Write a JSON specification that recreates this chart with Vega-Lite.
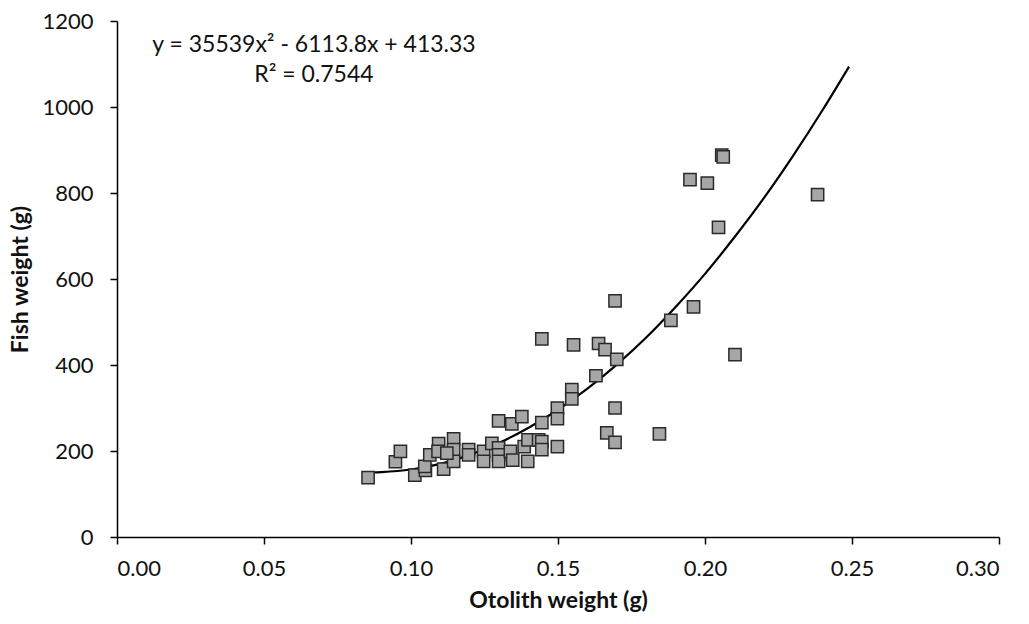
{
  "$schema": "https://vega.github.io/schema/vega-lite/v6.json",
  "width": 882,
  "height": 516,
  "autosize": {"type": "none"},
  "padding": {"left": 117, "top": 21, "right": 30, "bottom": 87},
  "background": "white",
  "config": {
    "view": {"stroke": null},
    "font": "Lato",
    "axis": {
      "grid": false,
      "domainColor": "#000",
      "domainWidth": 1.5,
      "tickColor": "#000",
      "tickWidth": 1.5,
      "tickSize": 7,
      "labelFont": "Lato",
      "labelFontSize": 22,
      "labelColor": "#111",
      "titleFont": "Lato",
      "titleFontSize": 23,
      "titleFontWeight": "bold",
      "titleColor": "#111"
    }
  },
  "datasets": {
    "pts": [
      {"x": 0.0854, "y": 138}, {"x": 0.0947, "y": 175}, {"x": 0.0964, "y": 199},
      {"x": 0.1013, "y": 144}, {"x": 0.1049, "y": 155}, {"x": 0.1047, "y": 164},
      {"x": 0.1064, "y": 191}, {"x": 0.1094, "y": 217}, {"x": 0.1092, "y": 199},
      {"x": 0.1111, "y": 158}, {"x": 0.1145, "y": 228}, {"x": 0.1145, "y": 203},
      {"x": 0.1145, "y": 176}, {"x": 0.1122, "y": 195}, {"x": 0.1196, "y": 203},
      {"x": 0.1196, "y": 191}, {"x": 0.1247, "y": 199}, {"x": 0.1247, "y": 176},
      {"x": 0.1275, "y": 218}, {"x": 0.1298, "y": 270}, {"x": 0.1298, "y": 207},
      {"x": 0.1298, "y": 191}, {"x": 0.1298, "y": 176}, {"x": 0.1343, "y": 263},
      {"x": 0.1338, "y": 199}, {"x": 0.1346, "y": 179}, {"x": 0.1377, "y": 280},
      {"x": 0.1385, "y": 210}, {"x": 0.1398, "y": 226}, {"x": 0.1397, "y": 176},
      {"x": 0.1434, "y": 226}, {"x": 0.1445, "y": 222}, {"x": 0.1445, "y": 203},
      {"x": 0.1445, "y": 266}, {"x": 0.1498, "y": 300}, {"x": 0.1498, "y": 275},
      {"x": 0.1498, "y": 210}, {"x": 0.1666, "y": 242}, {"x": 0.1694, "y": 220},
      {"x": 0.1694, "y": 300}, {"x": 0.1445, "y": 461}, {"x": 0.1553, "y": 447},
      {"x": 0.1638, "y": 450}, {"x": 0.1660, "y": 436}, {"x": 0.1700, "y": 413},
      {"x": 0.1629, "y": 375}, {"x": 0.1547, "y": 343}, {"x": 0.1547, "y": 321},
      {"x": 0.1845, "y": 240}, {"x": 0.1884, "y": 504}, {"x": 0.1961, "y": 535},
      {"x": 0.2102, "y": 424}, {"x": 0.1694, "y": 549}, {"x": 0.2057, "y": 888},
      {"x": 0.2062, "y": 884}, {"x": 0.1949, "y": 831}, {"x": 0.2008, "y": 823},
      {"x": 0.2046, "y": 720}, {"x": 0.2383, "y": 796}
    ],
    "curve": [
      {"x": 0.086, "y": 150}, {"x": 0.09, "y": 151}, {"x": 0.10, "y": 157},
      {"x": 0.11, "y": 170}, {"x": 0.12, "y": 191}, {"x": 0.13, "y": 219},
      {"x": 0.14, "y": 254}, {"x": 0.15, "y": 296}, {"x": 0.16, "y": 345},
      {"x": 0.17, "y": 401}, {"x": 0.18, "y": 464}, {"x": 0.19, "y": 535},
      {"x": 0.20, "y": 612}, {"x": 0.21, "y": 697}, {"x": 0.22, "y": 788},
      {"x": 0.23, "y": 887}, {"x": 0.24, "y": 993}, {"x": 0.249, "y": 1094}
    ],
    "labels": [
      {"x": 0.067, "y": 1144, "t": "y = 35539x² - 6113.8x + 413.33"},
      {"x": 0.067, "y": 1074, "t": "R² = 0.7544"}
    ]
  },
  "layer": [
    {
      "data": {"name": "curve"},
      "mark": {"type": "line", "color": "#000", "strokeWidth": 2.2, "interpolate": "monotone"},
      "encoding": {
        "x": {"field": "x", "type": "quantitative", "scale": {"domain": [0, 0.3]},
              "axis": {"values": [0, 0.05, 0.1, 0.15, 0.2, 0.25, 0.3], "format": ".2f", "title": "Otolith weight (g)", "titlePadding": 10, "labelPadding": 14}},
        "y": {"field": "y", "type": "quantitative", "scale": {"domain": [0, 1200]},
              "axis": {"values": [0, 200, 400, 600, 800, 1000, 1200], "format": "d", "title": "Fish weight (g)", "titlePadding": 9, "labelPadding": 17}}
      }
    },
    {
      "data": {"name": "pts"},
      "mark": {"type": "square", "size": 150, "fill": "#a6a6a6", "fillOpacity": 1, "stroke": "#2a2a2a", "strokeWidth": 1.5},
      "encoding": {
        "x": {"field": "x", "type": "quantitative"},
        "y": {"field": "y", "type": "quantitative"}
      }
    },
    {
      "data": {"name": "labels"},
      "mark": {"type": "text", "align": "center", "baseline": "middle", "fontSize": 23, "font": "Lato", "color": "#111"},
      "encoding": {
        "x": {"field": "x", "type": "quantitative"},
        "y": {"field": "y", "type": "quantitative"},
        "text": {"field": "t"}
      }
    }
  ]
}
